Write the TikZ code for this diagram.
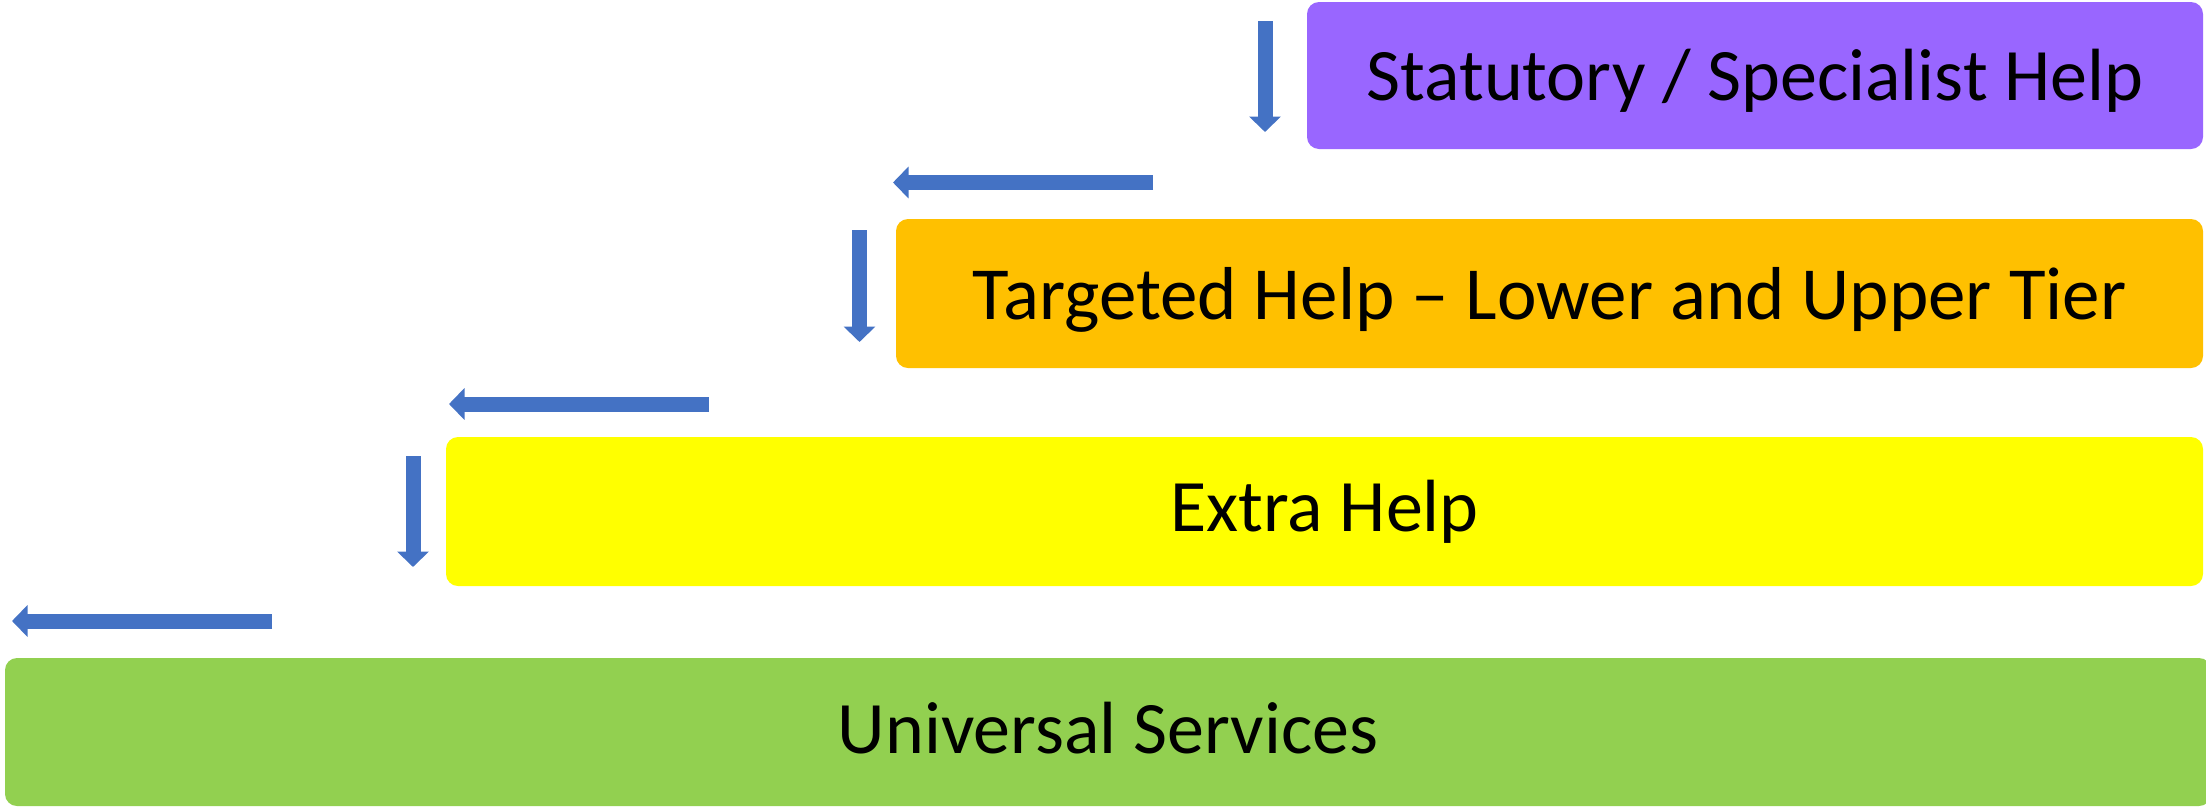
\documentclass[tikz,border=0pt]{standalone}
\usepackage{fontspec}
\setmainfont{Carlito}
\usetikzlibrary{arrows.meta}
\definecolor{cpurple}{HTML}{9966FF}
\definecolor{corange}{HTML}{FFC000}
\definecolor{cyellow}{HTML}{FFFF00}
\definecolor{cgreen}{HTML}{92D050}
\definecolor{carrow}{HTML}{4472C4}
\begin{document}
\begin{tikzpicture}[x=1pt,y=-1pt,
  tier/.style={rectangle, rounded corners=12pt, draw=none, inner sep=0pt,
    text depth=0pt, font=\fontsize{74}{80}\selectfont},
  blockarrow/.style={draw=carrow, line width=15pt,
    -{Triangle[length=15.5pt,width=31pt]}}]
\useasboundingbox (0,0) rectangle (2206,807);
\node[tier, fill=cpurple, text height=49pt, minimum width=896pt, minimum height=147pt] (stat) at (1755,75.5) {Statutory / Specialist Help};
\node[tier, fill=corange, text height=51pt, font=\fontsize{75}{80}\selectfont, minimum width=1307pt, minimum height=149pt] (targ) at (1549.5,293.5) {Targeted Help – Lower and Upper Tier};
\node[tier, fill=cyellow, text height=40pt, minimum width=1757pt, minimum height=149pt] (extra) at (1324.5,511.5) {Extra Help};
\node[tier, fill=cgreen, text height=42pt, minimum width=2206pt, minimum height=148pt] (univ) at (1108,732) {Universal Services};
\coordinate (d1s) at (1265,21);   \coordinate (d1e) at (1265,132);
\coordinate (l1s) at (1153,182.5); \coordinate (l1e) at (893,182.5);
\coordinate (d2s) at (859.5,230); \coordinate (d2e) at (859.5,342);
\coordinate (l2s) at (709,404);   \coordinate (l2e) at (449,404);
\coordinate (d3s) at (413,456);   \coordinate (d3e) at (413,567);
\coordinate (l3s) at (272,621);   \coordinate (l3e) at (12,621);
\draw[blockarrow] (d1s) -- (d1e);
\draw[blockarrow] (l1s) -- (l1e);
\draw[blockarrow] (d2s) -- (d2e);
\draw[blockarrow] (l2s) -- (l2e);
\draw[blockarrow] (d3s) -- (d3e);
\draw[blockarrow] (l3s) -- (l3e);
\end{tikzpicture}
\end{document}
